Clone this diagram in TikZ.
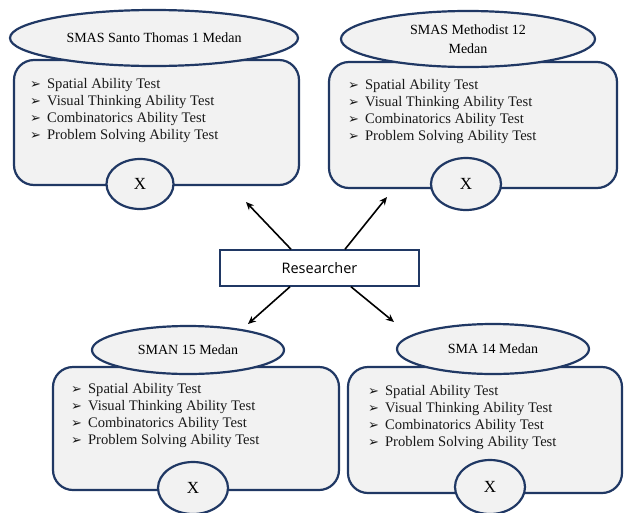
\documentclass[tikz,border=0pt]{standalone}
\usepackage{fontspec}
\setmainfont{Liberation Serif}
\newfontfamily\dejavu{DejaVu Sans}
\newfontfamily\opensans{Open Sans}
\usetikzlibrary{shapes.geometric,arrows.meta}
\definecolor{navy}{HTML}{203864}
\definecolor{boxfill}{HTML}{F2F2F2}
\newcommand{\bulx}{{\dejavu\fontsize{13}{13}\selectfont ➢}}
\newcommand{\testlist}{%
\begin{tabular}{@{}l@{\hspace{6pt}}l@{}}
\bulx & Spatial Ability Test\\
\bulx & Visual Thinking Ability Test\\
\bulx & Combinatorics Ability Test\\
\bulx & Problem Solving Ability Test
\end{tabular}}
\begin{document}
\begin{tikzpicture}[x=1pt,y=-1pt,
  school/.style={draw=navy,line width=2.2pt,fill=boxfill,rounded corners=20pt,inner sep=0pt},
  head/.style={ellipse,draw=navy,line width=2.2pt,fill=boxfill,inner sep=0pt,font=\fontsize{14}{19}\selectfont,align=center},
  xmark/.style={ellipse,draw=navy,line width=2.2pt,fill=boxfill,inner sep=0pt,font=\fontsize{17}{17}\selectfont},
  list/.style={anchor=north west,inner sep=0pt,font=\fontsize{14.6}{17}\selectfont,text=black!90},
  arr/.style={line width=1.6pt,-{Stealth[length=8pt,width=7pt]}}]
\useasboundingbox (0,0) rectangle (624,512);
\fill[white] (0,0) rectangle (624,512);
% top left
\node[school,minimum width=285pt,minimum height=125pt] (tlr) at (156.5,122.5) {};
\node[head,minimum width=288pt,minimum height=56pt] (tle) at (154,38) {SMAS Santo Thomas 1 Medan};
\node[xmark,minimum width=67pt,minimum height=50pt] (tlx) at (140,184) {X};
\node[list] (tll) at (30,76) {\testlist};
% top right
\node[school,minimum width=288pt,minimum height=126pt] (trr) at (473,125) {};
\node[head,minimum width=254pt,minimum height=56pt] (tre) at (468,39) {SMAS Methodist 12\\Medan};
\node[xmark,minimum width=70pt,minimum height=52pt] (trx) at (466,184) {X};
\node[list] (trl) at (348,77) {\testlist};
% researcher
\node[draw=navy,line width=1.5pt,fill=white,minimum width=199pt,minimum height=36pt,inner sep=0pt,font=\opensans\fontsize{14.5}{14.5}\selectfont] (res) at (319.5,268) {Researcher};
% bottom left
\node[school,minimum width=286pt,minimum height=123pt] (blr) at (196,428.5) {};
\node[head,minimum width=192pt,minimum height=48pt] (ble) at (188,350) {SMAN 15 Medan};
\node[xmark,minimum width=70pt,minimum height=52pt] (blx) at (193,488) {X};
\node[list] (bll) at (71,381) {\testlist};
% bottom right
\node[school,minimum width=274pt,minimum height=126pt] (brr) at (485,430) {};
\node[head,minimum width=192pt,minimum height=50pt] (bre) at (493,349) {SMA 14 Medan};
\node[xmark,minimum width=70pt,minimum height=54pt] (brx) at (490,487) {X};
\node[list] (brl) at (368,383) {\testlist};
% arrows
\coordinate (e1) at (246,202);
\coordinate (e2) at (387,197);
\coordinate (e3) at (248,324);
\coordinate (e4) at (394,322);
\draw[arr] (res.north -| 291,0) -- (e1);
\draw[arr] (res.north -| 345,0) -- (e2);
\draw[arr] (res.south -| 290,0) -- (e3);
\draw[arr] (res.south -| 351,0) -- (e4);
\end{tikzpicture}
\end{document}
